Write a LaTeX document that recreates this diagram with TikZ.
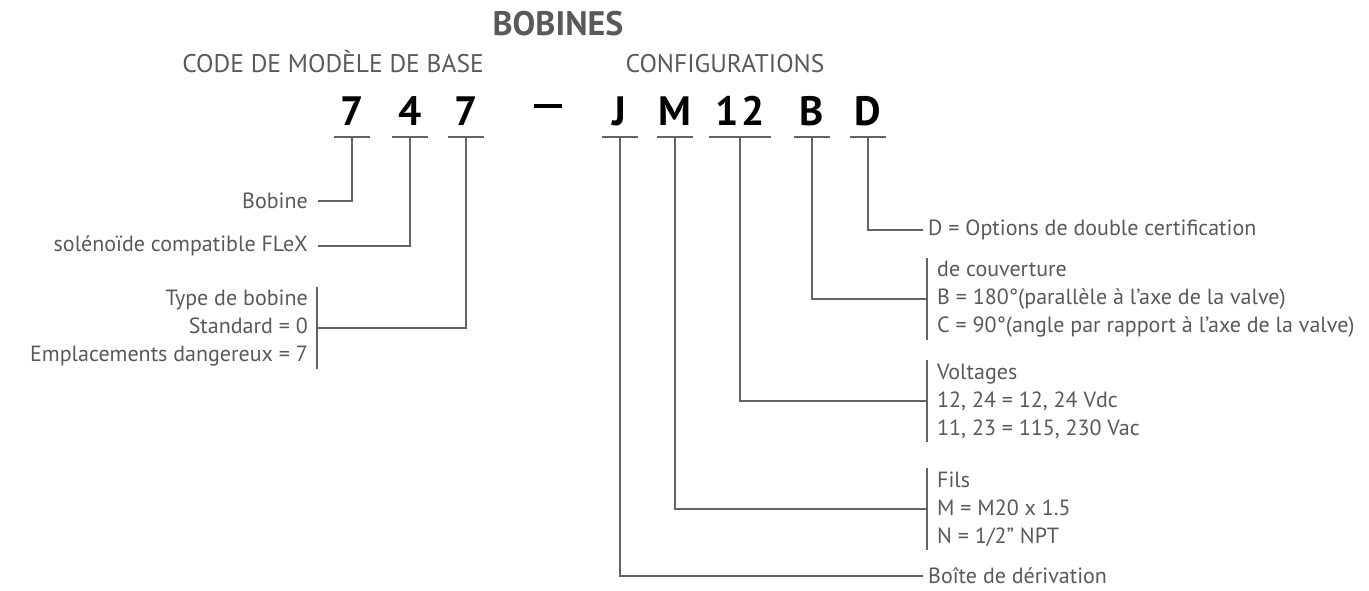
\documentclass[tikz,border=0pt]{standalone}
\usepackage{fontspec}
\setmainfont{PT Sans}
\usepackage{xcolor}
\usepackage{tikz}
\usetikzlibrary{positioning}
\definecolor{txtgray}{HTML}{58595B}
\definecolor{wiregray}{HTML}{636466}

\begin{document}
\begin{tikzpicture}[x=1pt,y=-1pt,
  wire/.style={draw=wiregray,line width=2.6pt},
  digit/.style={font=\fontsize{41}{41}\selectfont\bfseries,anchor=base,inner sep=0pt},
  head/.style={font=\fontsize{25.5}{25.5}\selectfont,text=txtgray,anchor=base,inner sep=0pt},
  lbl/.style={font=\fontsize{22}{28}\selectfont,text=txtgray,inner xsep=10pt,inner ysep=3pt},
  tag/.style={lbl,anchor=west,inner xsep=5pt,inner ysep=0pt},
  grp/.style={lbl,anchor=west,align=left}]
\useasboundingbox (0,0) rectangle (1369,590);
\node[font=\fontsize{34}{34}\selectfont\bfseries,text=txtgray,anchor=base,inner sep=0pt] (title) at (558,35) {BOBINES};
\node[head] (basehd) at (333,72) {CODE DE MODÈLE DE BASE};
\node[head] (confhd) at (725,72) {CONFIGURATIONS};
\node[digit] (d7a) at (352,125) {7};
\node[digit] (d4) at (410,125) {4};
\node[digit] (d7b) at (466,125) {7};
\node[digit] (dash) at (548,125) {\rule[17pt]{28pt}{4.5pt}};
\node[digit] (dJ) at (619,125) {J};
\node[digit] (dM) at (675,125) {M};
\node[digit] (d12) at (740,125) {1\kern3pt2};
\node[digit] (dB) at (812,125) {B};
\node[digit] (dD) at (868,125) {D};
\coordinate (u7a) at (352,137);
\coordinate (u4) at (410,137);
\coordinate (u7b) at (466,137);
\coordinate (uJ) at (620,137);
\coordinate (uM) at (675,137);
\coordinate (u12) at (740,137);
\coordinate (uB) at (812,137);
\coordinate (uD) at (868,137);
\draw[wire] ([xshift=-18pt]u7a) -- ([xshift=18pt]u7a);
\draw[wire] ([xshift=-18pt]u4) -- ([xshift=18pt]u4);
\draw[wire] ([xshift=-18pt]u7b) -- ([xshift=18pt]u7b);
\draw[wire] ([xshift=-18pt]uJ) -- ([xshift=18pt]uJ);
\draw[wire] ([xshift=-18pt]uM) -- ([xshift=18pt]uM);
\draw[wire] ([xshift=-31pt]u12) -- ([xshift=31pt]u12);
\draw[wire] ([xshift=-18pt]uB) -- ([xshift=18pt]uB);
\draw[wire] ([xshift=-18pt]uD) -- ([xshift=18pt]uD);
\node[lbl,anchor=east] (bob) at (318,201) {Bobine};
\node[lbl,anchor=east] (sol) at (318,246) {solénoïde compatible FLeX};
\node[lbl,anchor=east,align=right,inner xsep=9pt] (typ) at (317,328) {Type de bobine\\Standard = 0\\Emplacements dangereux = 7};
\node[tag] (dopt) at (923,230) {D = Options de double certification};
\node[grp] (cov) at (927,299) {de couverture\\B = 180°(parallèle à l’axe de la valve)\\C = 90°(angle par rapport à l’axe de la valve)};
\node[grp] (volt) at (927,401) {Voltages\\12, 24 = 12, 24 Vdc\\11, 23 = 115, 230 Vac};
\node[grp] (fils) at (927,509) {Fils\\M = M20 x 1.5\\N = 1/2” NPT};
\node[tag] (boite) at (923,576) {Boîte de dérivation};
\draw[wire] (typ.north east) -- (typ.south east);
\draw[wire] (cov.north west) -- (cov.south west);
\draw[wire] (volt.north west) -- (volt.south west);
\draw[wire] (fils.north west) -- (fils.south west);
\draw[wire] (u7a) |- (bob.east);
\draw[wire] (u4) |- (sol.east);
\draw[wire] (u7b) |- (typ.east);
\draw[wire] (uD) |- (dopt.west);
\draw[wire] (uB) |- (cov.west);
\draw[wire] (u12) |- (volt.west);
\draw[wire] (uM) |- (fils.west);
\draw[wire] (uJ) |- (boite.west);
\end{tikzpicture}
\end{document}
